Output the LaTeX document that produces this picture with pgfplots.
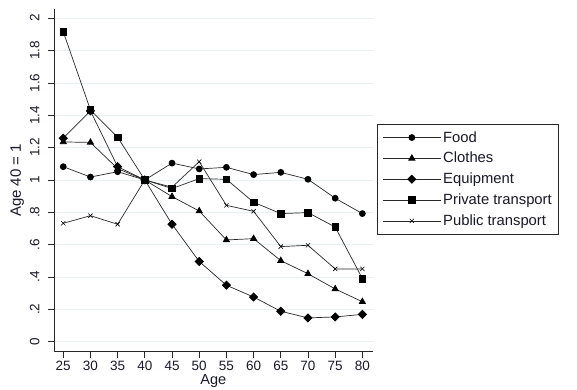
\documentclass[border=0pt]{standalone}
\usepackage{pgfplots}
\pgfplotsset{compat=1.18}
\usepackage{fontspec}
\setmainfont{Liberation Sans}
\definecolor{gridc}{RGB}{232,240,244}
\definecolor{txt}{RGB}{25,25,40}
\definecolor{ln}{RGB}{40,40,40}
\begin{document}
\begin{tikzpicture}[x=1pt,y=1pt]
\useasboundingbox (0,0) rectangle (577,389);
\begin{axis}[
  at={(54pt,37.3pt)}, anchor=south west,
  scale only axis, width=318.7pt, height=342.7pt,
  xmin=23.3, xmax=81.9, ymin=-0.062, ymax=2.057,
  axis lines*=left,
  axis line style={ln, line width=0.8pt},
  every outer x axis line/.append style={-},
  every outer y axis line/.append style={-},
  xtick={25,30,...,80},
  ytick={0,0.2,0.4,0.6,0.8,1,1.2,1.4,1.6,1.8,2},
  yticklabels={0,.2,.4,.6,.8,1,1.2,1.4,1.6,1.8,2},
  yticklabel style={rotate=90, anchor=south, font=\fontsize{13.5}{14}\selectfont, text=txt},
  yticklabel shift=5pt,
  xticklabel style={font=\fontsize{13.5}{14}\selectfont, text=txt},
  /pgf/number format/assume math mode=true,
  tick align=outside, tickwidth=6pt,
  tick style={ln, line width=0.8pt},
  ymajorgrids, major grid style={gridc, line width=0.8pt},
  xlabel={Age}, ylabel={Age 40 = 1},
  xlabel style={font=\fontsize{14.5}{14}\selectfont, text=txt, yshift=3pt},
  ylabel style={font=\fontsize{15}{14}\selectfont, text=txt, yshift=-1pt},
  legend cell align=left,
  legend style={at={(1,0.664)}, anchor=north west, xshift=4.5pt,
    draw=ln, line width=0.6pt, font=\fontsize{14.8}{15}\selectfont,
    text=txt, row sep=4.6pt, inner xsep=5pt, inner ysep=5pt,
    /tikz/every even column/.append style={column sep=5pt}},
  legend image code/.code={
    \draw[mark repeat=2,mark phase=2,#1] plot coordinates {(0pt,0pt) (29pt,0pt) (58pt,0pt)};},
  every axis plot/.append style={ln, line width=0.7pt},
]
\addplot[mark=*, mark size=3pt, mark options={fill=black, draw=black}] coordinates {
(25,1.082) (30,1.018) (35,1.051) (40,1.0) (45,1.104) (50,1.068) (55,1.078) (60,1.033) (65,1.047) (70,1.004) (75,0.887) (80,0.792)};
\addlegendentry{Food}
\addplot[mark=triangle*, mark size=3.6pt, mark options={fill=black, draw=black}] coordinates {
(25,1.235) (30,1.232) (35,1.07) (40,1.0) (45,0.897) (50,0.808) (55,0.629) (60,0.637) (65,0.501) (70,0.42) (75,0.326) (80,0.247)};
\addlegendentry{Clothes}
\addplot[mark=square*, mark size=2.9pt, mark options={fill=black, draw=black, rotate=45}] coordinates {
(25,1.258) (30,1.427) (35,1.082) (40,1.0) (45,0.726) (50,0.496) (55,0.349) (60,0.276) (65,0.188) (70,0.147) (75,0.153) (80,0.169)};
\addlegendentry{Equipment}
\addplot[mark=square*, mark size=3.3pt, mark options={fill=black, draw=black}] coordinates {
(25,1.917) (30,1.433) (35,1.264) (40,1.0) (45,0.947) (50,1.008) (55,1.004) (60,0.862) (65,0.792) (70,0.798) (75,0.709) (80,0.39)};
\addlegendentry{Private transport}
\addplot[mark=x, mark size=3pt, mark options={draw=black, line width=0.6pt}] coordinates {
(25,0.732) (30,0.779) (35,0.726) (40,1.0) (45,0.955) (50,1.113) (55,0.843) (60,0.806) (65,0.588) (70,0.596) (75,0.45) (80,0.45)};
\addlegendentry{Public transport}
\end{axis}
\end{tikzpicture}
\end{document}
